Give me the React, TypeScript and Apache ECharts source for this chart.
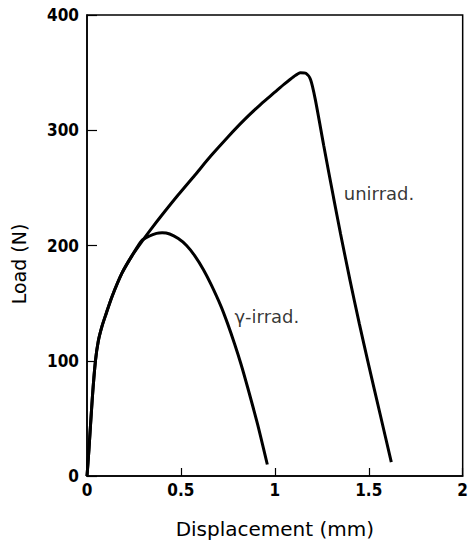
import React, { useEffect, useRef } from "react";
import * as echarts from "echarts";

const unirradX = [0, 0.01, 0.028, 0.045, 0.06, 0.08, 0.1, 0.134, 0.186, 0.239, 0.29, 0.34, 0.397, 0.486, 0.574, 0.661, 0.749, 0.837, 0.925, 1.0, 1.05, 1.1, 1.136, 1.165, 1.19, 1.215, 1.26, 1.312, 1.35, 1.4, 1.45, 1.5, 1.56, 1.62];
const unirradY = [0, 22, 67, 100, 117, 130, 140, 156, 176, 191, 203, 214, 226, 244, 261, 278, 294, 309, 322.5, 333, 340, 346.5, 350, 349.5, 344, 327, 287, 242, 210, 170, 132, 96, 54, 12];

const gammaX = [0, 0.01, 0.028, 0.045, 0.06, 0.08, 0.1, 0.134, 0.186, 0.239, 0.29, 0.33, 0.37, 0.4, 0.44, 0.486, 0.53, 0.574, 0.62, 0.661, 0.714, 0.749, 0.785, 0.82, 0.855, 0.908, 0.96];
const gammaY = [0, 22, 67, 100, 117, 130, 140, 156, 176, 191, 204, 208, 210.5, 211, 210, 206, 200, 191, 179, 166, 147, 132, 115, 97, 77, 45, 10];

const xTicks = [0, 0.5, 1, 1.5, 2];
const yTicks = [0, 100, 200, 300, 400];

const curveLabels = ["unirrad.", "\u03b3-irrad."];
const curveLabelX = [1.367, 0.785];
const curveLabelY = [245, 138];

const tickFont = '"DejaVu Sans Condensed", "Liberation Sans Narrow", sans-serif';
const textFont = '"DejaVu Sans", "Noto Sans", sans-serif';

export default function App() {
  const ref = useRef<HTMLDivElement>(null);
  useEffect(() => {
    if (!ref.current) return;
    const chart = echarts.init(ref.current, null, { renderer: "svg" });
    const zip = (xs: number[], ys: number[]) => xs.map((x, i) => [x, ys[i]]);
    chart.setOption({
      animation: false,
      backgroundColor: "#ffffff",
      grid: {
        left: 87,
        top: 15,
        right: 4,
        bottom: 67,
        show: true,
        borderColor: "#000",
        borderWidth: 1.5,
      },
      graphic: [
        {
          type: "text",
          x: 19,
          y: 264,
          rotation: Math.PI / 2,
          style: {
            text: "Load (N)",
            fontFamily: textFont,
            fontSize: 19,
            fill: "#000",
            align: "center",
            verticalAlign: "middle",
          },
        },
      ],
      xAxis: {
        type: "value",
        min: xTicks[0],
        max: xTicks[xTicks.length - 1],
        interval: 0.5,
        name: "Displacement (mm)",
        nameLocation: "middle",
        nameGap: 43,
        nameTextStyle: { fontFamily: textFont, fontSize: 20, color: "#000" },
        axisLine: { lineStyle: { color: "#000", width: 1.5 } },
        axisTick: { inside: true, length: 8, lineStyle: { color: "#000", width: 1.2 } },
        splitLine: { show: false },
        axisLabel: {
          margin: 5,
          fontFamily: tickFont,
          fontWeight: "bold",
          fontSize: 17,
          color: "#000",
          formatter: (v: number) => String(v),
        },
      },
      yAxis: {
        type: "value",
        min: yTicks[0],
        max: yTicks[yTicks.length - 1],
        interval: 100,
        axisLine: { lineStyle: { color: "#000", width: 1.5 } },
        axisTick: { inside: true, length: 10, lineStyle: { color: "#000", width: 1.2 } },
        splitLine: { show: false },
        axisLabel: {
          margin: 8,
          fontFamily: tickFont,
          fontWeight: "bold",
          fontSize: 17,
          color: "#000",
        },
      },
      series: [
        {
          name: "unirrad.",
          type: "line",
          data: zip(unirradX, unirradY),
          showSymbol: false,
          smooth: 0.25,
          lineStyle: { color: "#000", width: 3 },
        },
        {
          name: "gamma-irrad.",
          type: "line",
          data: zip(gammaX, gammaY),
          showSymbol: false,
          smooth: 0.25,
          lineStyle: { color: "#000", width: 3 },
        },
        {
          type: "scatter",
          symbolSize: 0,
          data: curveLabels.map((t, i) => ({ value: [curveLabelX[i], curveLabelY[i]], name: t })),
          label: {
            show: true,
            position: "right",
            distance: 0,
            formatter: (p: any) => p.name,
            fontFamily: textFont,
            fontSize: 18,
            color: "#000",
          },
        },
      ],
    });
    return () => chart.dispose();
  }, []);
  return <div ref={ref} style={{ width: 471, height: 544, position: "absolute", left: 0, top: 0 }} />;
}
